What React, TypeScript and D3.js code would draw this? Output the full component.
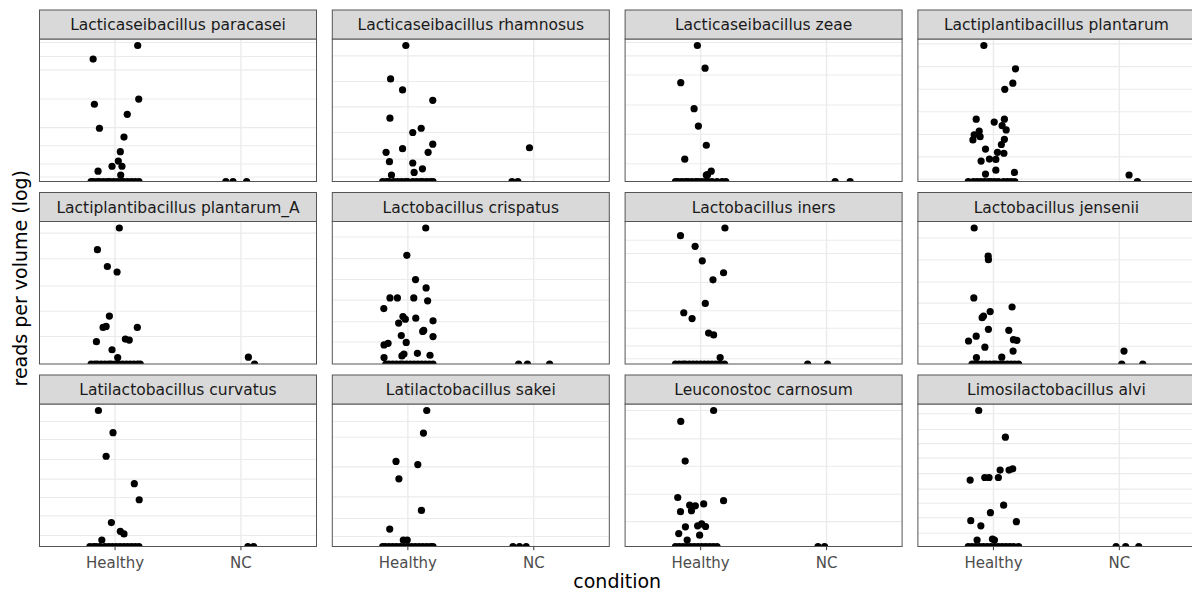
import * as d3 from 'd3';

// facet titles (facet_wrap order, 4 columns)
const species = [
  'Lacticaseibacillus paracasei',
  'Lacticaseibacillus rhamnosus',
  'Lacticaseibacillus zeae',
  'Lactiplantibacillus plantarum',
  'Lactiplantibacillus plantarum_A',
  'Lactobacillus crispatus',
  'Lactobacillus iners',
  'Lactobacillus jensenii',
  'Latilactobacillus curvatus',
  'Latilactobacillus sakei',
  'Leuconostoc carnosum',
  'Limosilactobacillus alvi',
];

const conditions = ['Healthy', 'NC'];

// [jitter, log10 reads per volume] for non-zero samples
const healthyReads: [number, number][][] = [
  [[0.18, 5.0], [-0.174, 4.58], [-0.164, 3.19], [0.188, 3.35], [0.097, 2.88], [-0.124, 2.45], [0.071, 2.18], [0.042, 1.73], [0.026, 1.44], [-0.024, 1.28], [0.055, 1.28], [-0.135, 1.13], [0.045, 1.01]],
  [[-0.016, 5.0], [-0.137, 3.97], [-0.042, 3.63], [0.198, 3.31], [-0.142, 2.76], [0.106, 2.45], [0.039, 2.32], [-0.042, 1.82], [0.198, 1.96], [-0.173, 1.71], [0.161, 1.71], [-0.146, 1.42], [0.039, 1.38], [0.116, 1.2], [0.05, 1.09], [-0.13, 1.01]],
  [[-0.026, 5.0], [0.035, 4.3], [-0.158, 3.85], [-0.052, 3.05], [-0.018, 2.51], [0.045, 1.92], [-0.126, 1.49], [0.084, 1.12], [0.055, 1.01], [0.045, 1.0]],
  [[-0.076, 5.0], [0.175, 4.28], [0.154, 3.84], [0.09, 3.65], [-0.137, 2.73], [0.006, 2.64], [0.087, 2.73], [-0.113, 2.36], [0.069, 2.53], [0.101, 2.4], [-0.153, 2.25], [-0.163, 2.09], [-0.106, 2.19], [0.087, 2.11], [0.063, 1.95], [-0.063, 1.81], [0.032, 1.71], [0.083, 1.68], [-0.098, 1.44], [-0.032, 1.5], [0.019, 1.49], [0.019, 1.16], [-0.063, 1.04], [0.167, 1.09]],
  [[0.034, 5.01], [-0.14, 4.34], [-0.061, 3.82], [0.016, 3.65], [-0.045, 2.29], [-0.095, 1.94], [-0.071, 1.97], [0.177, 1.94], [0.082, 1.58], [0.113, 1.55], [-0.148, 1.5], [-0.024, 1.25], [0.021, 1.01]],
  [[0.142, 5.01], [-0.008, 4.16], [0.061, 3.41], [0.145, 3.15], [-0.142, 2.84], [-0.083, 2.84], [0.047, 2.84], [0.157, 2.75], [-0.191, 2.51], [-0.039, 2.26], [-0.02, 2.18], [-0.073, 2.06], [0.063, 2.21], [0.2, 2.13], [0.126, 1.83], [0.118, 1.8], [-0.052, 1.67], [0.2, 1.64], [-0.013, 1.46], [-0.189, 1.38], [-0.157, 1.43], [0.076, 1.12], [0.176, 1.06], [-0.189, 0.99], [-0.047, 1.04], [-0.031, 1.1]],
  [[0.193, 5.01], [-0.16, 4.77], [-0.044, 4.44], [0.013, 3.99], [0.182, 3.62], [0.098, 3.4], [0.037, 2.67], [-0.134, 2.38], [-0.068, 2.2], [0.063, 1.75], [0.103, 1.69], [0.155, 0.99]],
  [[-0.153, 5.01], [-0.042, 4.14], [-0.04, 4.03], [-0.156, 2.85], [0.148, 2.57], [-0.026, 2.43], [-0.079, 2.29], [-0.09, 2.24], [-0.04, 1.88], [0.122, 1.85], [-0.137, 1.67], [-0.198, 1.52], [0.186, 1.54], [0.159, 1.56], [-0.068, 1.33], [0.156, 1.21], [-0.135, 1.01], [0.066, 1.02]],
  [[-0.132, 5.0], [-0.016, 4.31], [-0.071, 3.58], [0.153, 2.73], [0.192, 2.23], [-0.029, 1.52], [0.042, 1.25], [0.071, 1.17], [-0.105, 0.98]],
  [[0.15, 5.0], [0.124, 4.3], [-0.094, 3.42], [0.079, 3.32], [-0.071, 2.88], [0.108, 1.9], [-0.144, 1.32], [-0.036, 0.98], [-0.005, 0.98]],
  [[0.103, 5.0], [-0.158, 4.66], [-0.123, 3.43], [-0.182, 2.3], [0.182, 2.2], [-0.087, 2.06], [-0.042, 2.04], [0.024, 2.1], [-0.16, 1.86], [-0.073, 1.89], [-0.121, 1.39], [-0.024, 1.42], [0.008, 1.48], [0.039, 1.4], [-0.174, 1.18], [-0.008, 1.13], [-0.107, 0.98]],
  [[-0.117, 5.0], [0.095, 4.17], [0.153, 3.19], [0.124, 3.15], [0.053, 3.15], [-0.069, 2.92], [-0.035, 2.92], [0.039, 2.92], [-0.185, 2.84], [0.081, 2.06], [-0.024, 1.83], [-0.18, 1.58], [0.182, 1.55], [-0.1, 1.42], [-0.13, 0.98], [-0.008, 1.01], [0.008, 0.98]],
];

const ncReads: [number, number][][] = [
  [], [[-0.034, 1.85]], [], [[0.077, 1.01]],
  [[0.059, 1.02]], [], [], [[0.037, 1.21]],
  [], [], [], [],
];

// jitter of samples with zero reads (log -> -Inf, sit on the panel floor)
const healthyZeros: number[][] = [
  [-0.19, -0.17, -0.14, -0.12, -0.09, -0.06, -0.04, -0.01, 0.02, 0.05, 0.07, 0.1, 0.13, 0.16, 0.19],
  [-0.2, -0.17, -0.15, -0.11, -0.08, -0.05, -0.02, 0.0, 0.04, 0.07, 0.1, 0.12, 0.15, 0.18, 0.2],
  [-0.2, -0.18, -0.15, -0.12, -0.1, -0.07, -0.04, -0.02, 0.01, 0.04, 0.06, 0.09, 0.13, 0.17, 0.2],
  [-0.2, -0.16, -0.13, -0.1, -0.07, -0.04, -0.02, 0.01, 0.04, 0.08, 0.11, 0.14, 0.17],
  [-0.19, -0.16, -0.14, -0.11, -0.08, -0.05, -0.03, 0.0, 0.03, 0.06, 0.09, 0.12, 0.15, 0.18, 0.2],
  [-0.175, -0.15, -0.12, -0.09, -0.06, -0.04, -0.01, 0.02, 0.05, 0.08, 0.11, 0.14, 0.17, 0.2],
  [-0.2, -0.17, -0.14, -0.12, -0.09, -0.06, -0.03, 0.0, 0.03, 0.06, 0.09, 0.12, 0.15, 0.19],
  [-0.17, -0.15, -0.12, -0.09, -0.06, -0.03, 0.0, 0.02, 0.05, 0.08, 0.11, 0.14, 0.17, 0.2],
  [-0.2, -0.17, -0.15, -0.12, -0.08, -0.05, -0.02, 0.01, 0.04, 0.07, 0.1, 0.13, 0.16, 0.19],
  [-0.2, -0.18, -0.15, -0.12, -0.09, -0.06, -0.03, 0.0, 0.03, 0.06, 0.09, 0.12, 0.15, 0.18, 0.2],
  [-0.2, -0.17, -0.14, -0.11, -0.08, -0.05, -0.02, 0.01, 0.04, 0.07, 0.1, 0.13],
  [-0.2, -0.17, -0.14, -0.11, -0.08, -0.05, -0.02, 0.01, 0.04, 0.07, 0.1, 0.13, 0.16, 0.2],
];

const ncZeros: number[][] = [
  [-0.12, -0.063, 0.045], [-0.173, -0.126], [0.068, 0.187], [0.143],
  [0.108], [-0.12, -0.05, 0.126], [-0.15, 0.008], [0.019, 0.186],
  [0.055, 0.1], [-0.165, -0.113, -0.06], [-0.068, -0.016], [-0.026, 0.05, 0.154],
];

// horizontal grid lines per panel (log10 units)
const gridBreaks: number[][] = [
  [5.09, 4.66, 4.25, 3.35, 2.47, 1.91, 1.35, 0.95],
  [4.68, 3.89, 3.11, 2.32, 1.5, 0.95],
  [5.09, 4.68, 4.09, 3.16, 2.26, 1.35],
  [5.05, 4.35, 3.65, 2.96, 2.26, 1.57, 0.88],
  [4.85, 4.06, 3.22, 2.44, 1.66],
  [4.73, 4.06, 3.41, 2.77, 2.1, 1.47],
  [4.63, 4.22, 3.32, 2.44, 1.9, 1.35, 0.95],
  [4.7, 4.03, 3.34, 2.69, 2.06, 1.36],
  [4.66, 4.1, 3.48, 2.87, 2.3, 1.73, 1.12],
  [4.66, 4.17, 3.25, 2.32, 1.65, 1.09],
  [5.0, 4.12, 3.27, 2.4, 1.55],
  [4.9, 4.41, 3.97, 3.52, 3.04, 2.56, 2.12, 1.67, 1.19],
];

const W = 1192;
const H = 595;
const left = 39.5;
const top = 10;
const panelW = 277;
const gapX = 15.8;
const stripH = 29;
const panelH = 142.5;
const gapY = 11;
const nCol = 4;
const font = 'DejaVu Sans, Verdana, sans-serif';

function Panel({ i }: { i: number }) {
  const col = i % nCol;
  const row = Math.floor(i / nCol);
  const x0 = left + col * (panelW + gapX);
  const y0 = top + row * (stripH + panelH + gapY);
  const py = y0 + stripH;
  const nRows = Math.ceil(species.length / nCol);
  const bottomRow = row === nRows - 1;

  const x = d3.scalePoint<string>().domain(conditions).range([0, panelW]).padding(0.6);
  const step = x.step();

  const vals = [...healthyReads[i], ...ncReads[i]].map((d) => d[1]);
  const [lo, hi] = d3.extent(vals) as [number, number];
  const pad = (hi - lo) * 0.05;
  const y = d3.scaleLinear().domain([lo - pad, hi + pad]).range([panelH, 0]);

  const pts: { cx: number; cy: number }[] = [];
  healthyZeros[i].forEach((j) => pts.push({ cx: x('Healthy')! + j * step, cy: panelH }));
  ncZeros[i].forEach((j) => pts.push({ cx: x('NC')! + j * step, cy: panelH }));
  healthyReads[i].forEach(([j, v]) => pts.push({ cx: x('Healthy')! + j * step, cy: y(v) }));
  ncReads[i].forEach(([j, v]) => pts.push({ cx: x('NC')! + j * step, cy: y(v) }));

  const clipId = `clip-${i}`;
  return (
    <g>
      <g transform={`translate(${x0},${py})`}>
        <defs>
          <clipPath id={clipId}>
            <rect x={0} y={0} width={panelW} height={panelH} />
          </clipPath>
        </defs>
        <rect width={panelW} height={panelH} fill="#fff" />
        <g clipPath={`url(#${clipId})`}>
          {gridBreaks[i].map((b, k) => (
            <line key={k} x1={0} x2={panelW} y1={y(b)} y2={y(b)} stroke="#EBEBEB" strokeWidth={1.1} />
          ))}
          {conditions.map((c) => (
            <line key={c} x1={x(c)} x2={x(c)} y1={0} y2={panelH} stroke="#EBEBEB" strokeWidth={1.4} />
          ))}
          {pts.map((p, k) => (
            <circle key={k} cx={p.cx} cy={p.cy} r={3.6} fill="#000" />
          ))}
        </g>
        <rect width={panelW} height={panelH} fill="none" stroke="#555" strokeWidth={1} />
        {bottomRow &&
          conditions.map((c) => (
            <g key={c} transform={`translate(${x(c)},${panelH})`}>
              <line y1={0} y2={3.7} stroke="#333" strokeWidth={1} />
              <text y={21} textAnchor="middle" fontSize={15} fill="#4D4D4D" fontFamily={font}>
                {c}
              </text>
            </g>
          ))}
      </g>
      <rect x={x0} y={y0} width={panelW} height={stripH} fill="#D9D9D9" stroke="#555" strokeWidth={1} />
      <text
        x={x0 + panelW / 2}
        y={y0 + stripH / 2}
        dy="0.36em"
        textAnchor="middle"
        fontSize={15.5}
        fill="#1A1A1A"
        fontFamily={font}
      >
        {species[i]}
      </text>
    </g>
  );
}

export default function App() {
  const nRows = Math.ceil(species.length / nCol);
  const gridBottom = top + nRows * (stripH + panelH) + (nRows - 1) * gapY;
  const gridRight = left + nCol * panelW + (nCol - 1) * gapX;
  return (
    <svg
      width={W}
      height={H}
      style={{ position: 'absolute', left: 0, top: 0, background: '#fff' }}
    >
      <rect width={W} height={H} fill="#fff" />
      {species.map((_, i) => (
        <Panel key={i} i={i} />
      ))}
      <text
        x={(left + gridRight) / 2}
        y={588}
        textAnchor="middle"
        fontSize={19}
        fill="#000"
        fontFamily={font}
      >
        condition
      </text>
      <text
        transform={`translate(26.5,${(top + gridBottom) / 2}) rotate(-90)`}
        textAnchor="middle"
        fontSize={19}
        fill="#000"
        fontFamily={font}
      >
        reads per volume (log)
      </text>
    </svg>
  );
}
